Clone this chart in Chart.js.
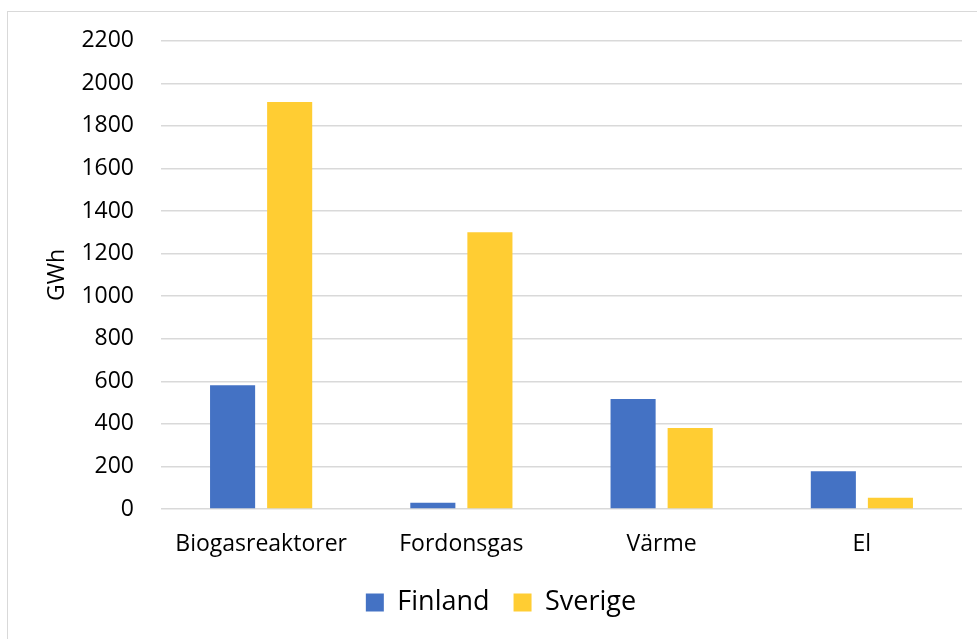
<!DOCTYPE html>
<html>
<head>
<meta charset="utf-8">
<script src="https://cdn.jsdelivr.net/npm/chart.js@4"></script>
<style>
  html, body { margin: 0; padding: 0; background: #fff; }
  #wrap { position: relative; width: 977px; height: 639px; }
  #frame { position: absolute; left: 7px; top: 11px; width: 975px; height: 640px; border: 1px solid #d9d9d9; box-sizing: border-box; }
  canvas { position: absolute; left: 0; top: 0; }
</style>
</head>
<body>
<div id="wrap">
  <div id="frame"></div>
  <canvas id="biogasChart" width="977" height="639"></canvas>
</div>
<script>
  // Kategorier och värden (GWh)
  const categories = ['Biogasreaktorer', 'Fordonsgas', 'Värme', 'El'];
  const finland = [581, 29, 517, 177];
  const sverige = [1912, 1300, 381, 53];

  const fontFamily = '"Open Sans", Lato, sans-serif';

  const ctx = document.getElementById('biogasChart').getContext('2d');
  const chart = new Chart(ctx, {
    type: 'bar',
    data: {
      labels: categories,
      datasets: [{
        label: 'Finland',
        data: finland,
        backgroundColor: '#4472C4'
      },
      {
        label: 'Sverige',
        data: sverige,
        backgroundColor: '#FFCD33'
      }]
    },
    options: {
      responsive: false,
      animation: false,
      categoryPercentage: 0.57,
      barPercentage: 0.79,
      layout: {
        padding: { left: 40, right: 15, top: 33, bottom: 13 }
      },
      plugins: {
        legend: {
          position: 'bottom',
          labels: {
            boxWidth: 18,
            boxHeight: 18,
            padding: 24,
            color: '#000',
            font: { family: fontFamily, size: 27 }
          }
        },
        tooltip: { enabled: false }
      },
      scales: {
        x: {
          grid: { display: false },
          border: { display: false },
          ticks: {
            color: '#000',
            padding: 14,
            font: { family: fontFamily, size: 23 }
          },
          afterFit: (axis) => { axis.height = 56; }
        },
        y: {
          min: 0,
          max: 2200,
          ticks: {
            stepSize: 200,
            color: '#000',
            padding: 27,
            font: { family: fontFamily, size: 23 },
            callback: (value) => String(value)
          },
          grid: {
            color: '#d9d9d9',
            lineWidth: 1.5,
            drawTicks: false
          },
          border: { display: false },
          title: {
            display: true,
            text: 'GWh',
            color: '#000',
            font: { family: fontFamily, size: 23 }
          },
          afterFit: (axis) => { axis.width = 121; }
        }
      }
    }
  });
</script>
</body>
</html>
